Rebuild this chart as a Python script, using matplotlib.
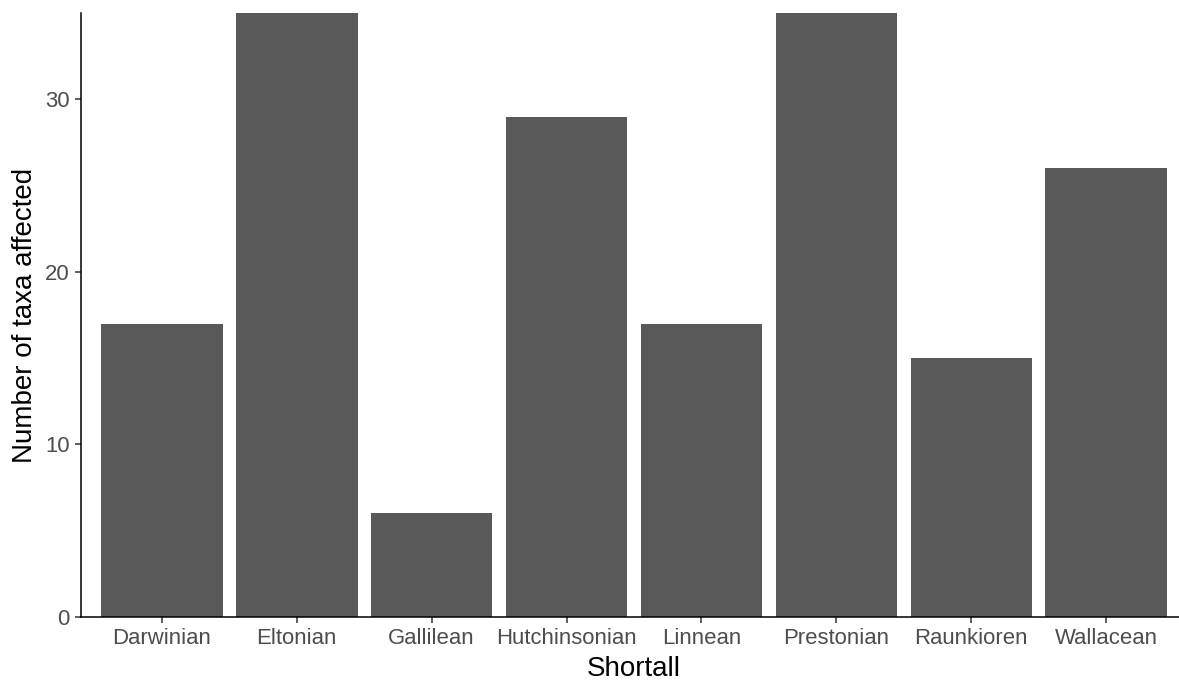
import matplotlib.pyplot as plt

# data; Eltonian and Prestonian are cut off at the top
groups = ["Darwinian", "Eltonian", "Gallilean", "Hutchinsonian", "Linnean",
          "Prestonian", "Raunkioren", "Wallacean"]
taxa = [17, 40, 6, 29, 17, 40, 15, 26]
yticks = [0, 10, 20, 30]

plt.rcParams['font.family'] = ['Liberation Sans', 'DejaVu Sans']

W, H = 1179, 683
fig = plt.figure(figsize=(W / 100, H / 100), dpi=100)
# plot panel: x from 81 to 1187 px (cropped on the right), y from 13 to 617 px
ax = fig.add_axes([81 / W, (H - 617) / H, (1187 - 81) / W, (617 - 13) / H])

x = range(len(groups))
ax.bar(x, taxa, width=0.9, color="#595959")
ax.set_xlim(-0.6, len(groups) - 0.4)
ax.set_ylim(0, 35)

ax.set_xticks(list(x))
ax.set_xticklabels(groups)
ax.set_yticks(yticks)

for s in ["top", "right"]:
    ax.spines[s].set_visible(False)
for s in ["left", "bottom"]:
    ax.spines[s].set_linewidth(1.1)
    ax.spines[s].set_color("black")

ax.tick_params(axis="both", length=4, width=1.1, color="#333333",
               labelsize=15.9, labelcolor="#4D4D4D", pad=4)

ax.set_xlabel("Shortall", fontsize=20, color="black", labelpad=5)
ax.set_ylabel("Number of taxa affected", fontsize=20, color="black", labelpad=5)

fig.savefig("out.png", dpi=100)
